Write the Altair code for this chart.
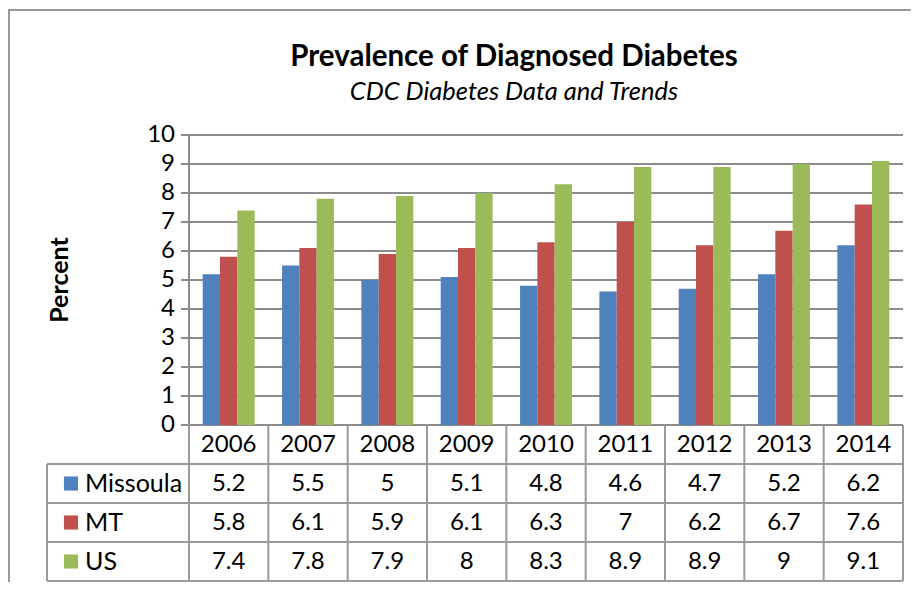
import altair as alt
import pandas as pd

# ---------------- data ----------------
years = ["2006", "2007", "2008", "2009", "2010", "2011", "2012", "2013", "2014"]
series_names = ["Missoula", "MT", "US"]
missoula = [5.2, 5.5, 5.0, 5.1, 4.8, 4.6, 4.7, 5.2, 6.2]
mt = [5.8, 6.1, 5.9, 6.1, 6.3, 7.0, 6.2, 6.7, 7.6]
us = [7.4, 7.8, 7.9, 8.0, 8.3, 8.9, 8.9, 9.0, 9.1]
series_colors = ["#4F81BD", "#C0504D", "#9BBB59"]
y_ticks = [0, 1, 2, 3, 4, 5, 6, 7, 8, 9, 10]
title_text = "Prevalence of Diagnosed Diabetes"
subtitle_text = "CDC Diabetes Data and Trends"
y_title = "Percent"

# ---------------- layout ----------------
FONT = "Lato"
W, H = 903, 574
CW = 714 / 9          # px per category
X0 = 181              # svg x of category axis start
Y0 = 417              # svg y of value 0
PX = 29.0             # px per percent unit
RH = 39 / PX          # table row height in value units
LEFT = -142 / CW      # table label column left edge
BW = 17.3 / CW        # bar width
GRID = "#8c8c8c"
TABLE = "#9a9a9a"
FS = 24

XS = alt.Scale(domain=[-X0 / CW, (W - X0) / CW], nice=False, zero=False)
YS = alt.Scale(domain=[(Y0 - H) / PX, Y0 / PX], nice=False, zero=False)

vals = [missoula, mt, us]
rows = []
for si, (name, vv) in enumerate(zip(series_names, vals)):
    for yi, (yr, v) in enumerate(zip(years, vv)):
        rows.append({"year": yr, "yi": yi, "series": name, "si": si, "value": v})
df = pd.DataFrame(rows)
ticks_df = pd.DataFrame({"t": y_ticks})
years_df = pd.DataFrame({"year": years, "yi": list(range(len(years)))})
series_df = pd.DataFrame({"series": series_names, "si": list(range(len(series_names)))})
one = pd.DataFrame({"a": [0]})

color = alt.Color("series:N", scale=alt.Scale(domain=series_names, range=series_colors), legend=None)

# gridlines + tick marks
grid = alt.Chart(ticks_df).mark_rule(color=GRID, strokeWidth=2).encode(
    x=alt.XDatum(-8 / CW, scale=XS, axis=None),
    x2=alt.datum(len(years)),
    y=alt.Y("t:Q", scale=YS, axis=None),
)
axis_line = alt.Chart(one).mark_rule(color=GRID, strokeWidth=2).encode(
    x=alt.XDatum(0, scale=XS, axis=None),
    y=alt.YDatum(0, scale=YS, axis=None),
    y2=alt.datum(10),
)
tick_labels = alt.Chart(ticks_df).mark_text(
    align="right", baseline="middle", dx=-14, font=FONT, fontSize=FS, color="#000"
).encode(
    x=alt.XDatum(0, scale=XS, axis=None),
    y=alt.Y("t:Q", scale=YS, axis=None),
    text="t:N",
)

bars = alt.Chart(df).transform_calculate(
    bx0=f"datum.yi + 0.5 + (datum.si - 1.5) * {BW}",
    bx1=f"datum.yi + 0.5 + (datum.si - 0.5) * {BW}",
).mark_rect().encode(
    x=alt.X("bx0:Q", scale=XS, axis=None),
    x2="bx1:Q",
    y=alt.Y("value:Q", scale=YS, axis=None),
    y2=alt.datum(0),
    color=color,
)

# table lines
vlines = alt.Chart(pd.DataFrame({"k": list(range(len(years) + 1))})).mark_rule(
    color=TABLE, strokeWidth=2
).encode(
    x=alt.X("k:Q", scale=XS, axis=None),
    y=alt.YDatum(0, scale=YS, axis=None),
    y2=alt.datum(-4 * RH),
)
left_line = alt.Chart(one).mark_rule(color=TABLE, strokeWidth=2).encode(
    x=alt.XDatum(LEFT, scale=XS, axis=None),
    y=alt.YDatum(-RH, scale=YS, axis=None),
    y2=alt.datum(-4 * RH),
)
hlines = alt.Chart(pd.DataFrame({"r": [1, 2, 3, 4]})).transform_calculate(
    yy=f"-datum.r * {RH}"
).mark_rule(color=TABLE, strokeWidth=2).encode(
    x=alt.XDatum(LEFT, scale=XS, axis=None),
    x2=alt.datum(len(years)),
    y=alt.Y("yy:Q", scale=YS, axis=None),
)

# table text
header = alt.Chart(years_df).transform_calculate(
    cx="datum.yi + 0.5", cy=f"-0.5 * {RH}"
).mark_text(baseline="middle", align="center", font=FONT, fontSize=FS, color="#000").encode(
    x=alt.X("cx:Q", scale=XS, axis=None),
    y=alt.Y("cy:Q", scale=YS, axis=None),
    text="year:N",
)
cells = alt.Chart(df).transform_calculate(
    cx="datum.yi + 0.5", cy=f"-(datum.si + 1.5) * {RH}"
).mark_text(baseline="middle", align="center", font=FONT, fontSize=FS, color="#000").encode(
    x=alt.X("cx:Q", scale=XS, axis=None),
    y=alt.Y("cy:Q", scale=YS, axis=None),
    text="value:N",
)
row_labels = alt.Chart(series_df).transform_calculate(
    cy=f"-(datum.si + 1.5) * {RH}"
).mark_text(baseline="middle", align="left", font=FONT, fontSize=25, color="#000").encode(
    x=alt.XDatum(LEFT + 38 / CW, scale=XS, axis=None),
    y=alt.Y("cy:Q", scale=YS, axis=None),
    text="series:N",
)
squares = alt.Chart(series_df).transform_calculate(
    cy=f"-(datum.si + 1.5) * {RH}"
).mark_square(size=200, opacity=1, filled=True).encode(
    x=alt.XDatum(LEFT + 24 / CW, scale=XS, axis=None),
    y=alt.Y("cy:Q", scale=YS, axis=None),
    color=color,
)

# titles
title = alt.Chart(pd.DataFrame({"t": [title_text]})).mark_text(
    align="center", baseline="alphabetic", font=FONT, fontSize=29.5, fontWeight="bold", color="#000"
).encode(x=alt.value(506), y=alt.value(58), text="t:N")
subtitle = alt.Chart(pd.DataFrame({"t": [subtitle_text]})).mark_text(
    align="center", baseline="alphabetic", font=FONT, fontSize=25.5, fontStyle="italic", color="#000"
).encode(x=alt.value(506), y=alt.value(92), text="t:N")
ytitle = alt.Chart(pd.DataFrame({"t": [y_title]})).mark_text(
    align="center", baseline="middle", font=FONT, fontSize=25, fontWeight="bold", angle=270, color="#000"
).encode(x=alt.value(52), y=alt.value(272), text="t:N")

# outer frame (top and left edges visible)
frame_top = alt.Chart(one).mark_rule(color="#999999", strokeWidth=2).encode(
    x=alt.value(0), x2=alt.value(W), y=alt.value(2)
)
frame_left = alt.Chart(one).mark_rule(color="#999999", strokeWidth=2).encode(
    x=alt.value(1), y=alt.value(2), y2=alt.value(H)
)

chart = alt.layer(
    frame_top, frame_left, grid, bars, axis_line, vlines, left_line, hlines,
    tick_labels, header, cells, row_labels, squares, title, subtitle, ytitle,
).properties(
    width=W, height=H, autosize=alt.AutoSizeParams(type="none"), padding=0,
).configure_view(stroke=None)

chart.save("out.html", embed_options={"renderer": "svg", "actions": False})
